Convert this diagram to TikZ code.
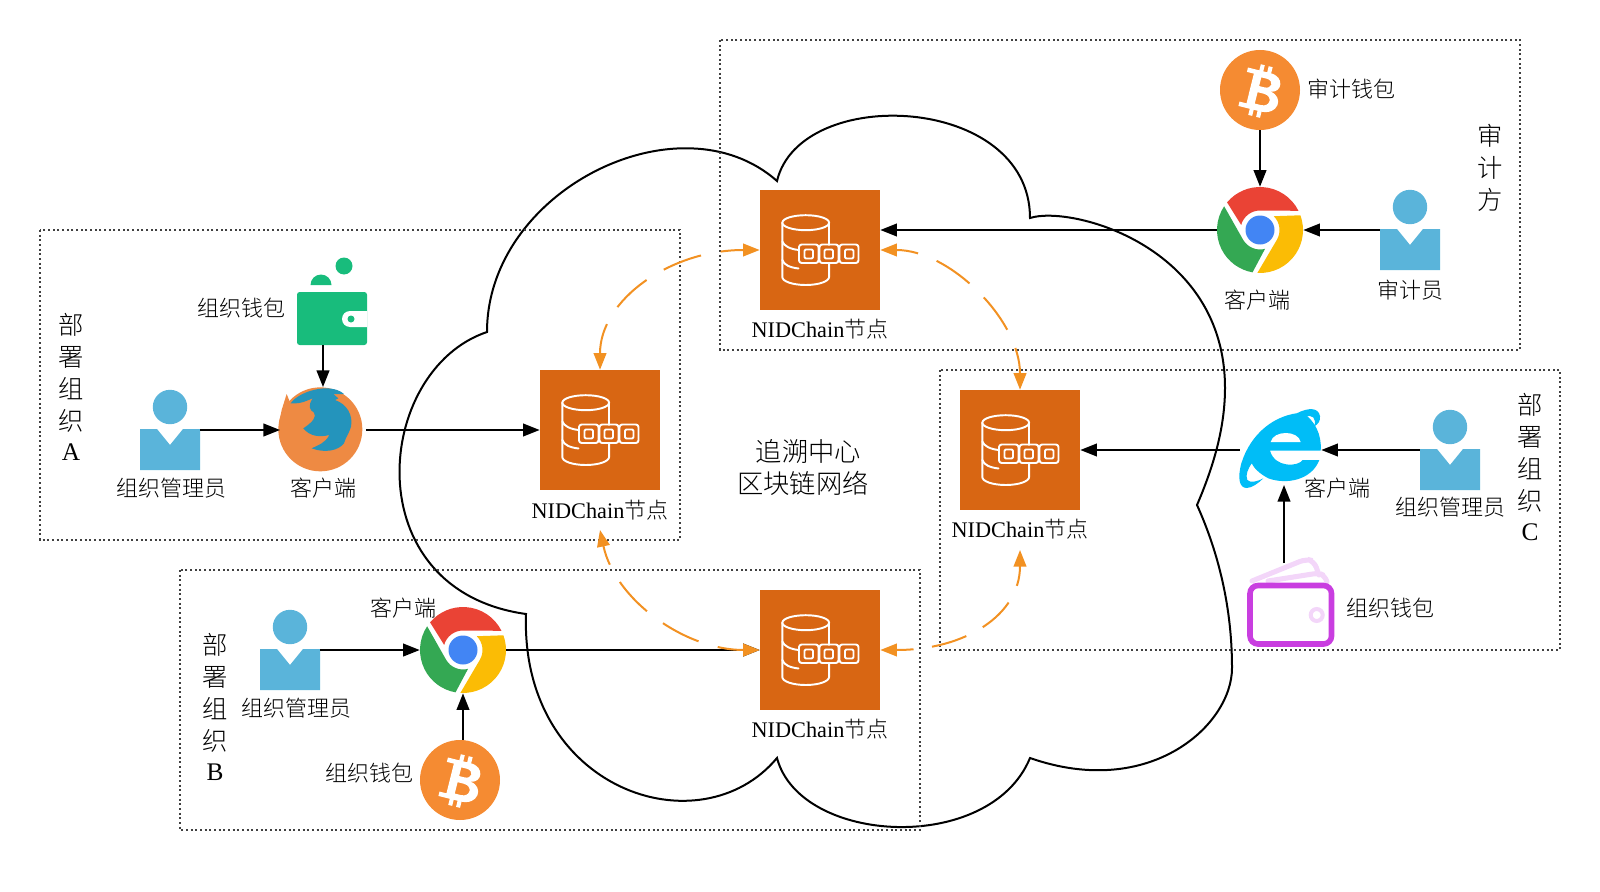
\documentclass[tikz,border=0pt]{standalone}
\usepackage{fontspec}
\setmainfont{Liberation Serif}
\newfontfamily\cjk{Noto Sans CJK SC Light}
\usetikzlibrary{arrows.meta,calc}
\definecolor{boxor}{HTML}{D86613}
\definecolor{orln}{HTML}{F29122}
\definecolor{btc}{HTML}{F58B32}
\definecolor{pers}{HTML}{5AB4DA}
\definecolor{grn}{HTML}{18BC7C}
\definecolor{purp}{HTML}{C93EE0}
\definecolor{pink}{HTML}{F3D6F9}
\definecolor{ieb}{HTML}{00BDF7}
\definecolor{fxo}{HTML}{EE8A43}
\definecolor{fxb}{HTML}{2494BC}
\definecolor{chr}{HTML}{EA4335}
\definecolor{chy}{HTML}{FBBC05}
\definecolor{chg}{HTML}{34A853}
\definecolor{chb}{HTML}{4285F4}
\tikzset{
  lab/.style={inner sep=0pt,font=\fontsize{16.5pt}{20pt}\selectfont\cjk,text=black},
  nidlab/.style={inner sep=0pt,font=\fontsize{16.7pt}{20pt}\selectfont,text=black},
  biglab/.style={inner sep=0pt,align=center,font=\fontsize{19pt}{24pt}\selectfont\cjk,text=black},
  midlab/.style={inner sep=0pt,align=center,font=\fontsize{19.7pt}{24pt}\selectfont\cjk,text=black},
  frame/.style={draw=black!75,line width=1.4pt,dash pattern=on 1.6pt off 1.9pt},
  cloudline/.style={draw=black,line width=1.5pt,line join=miter},
  conn/.style={draw=black,line width=1.5pt,-{Triangle[length=12.5pt,width=9.5pt]}},
  orconn/.style={draw=orln,line width=1.5pt,{Triangle[length=12.5pt,width=9.5pt]}-{Triangle[length=12.5pt,width=9.5pt]},dash pattern=on 30pt off 15pt},
  chainbox/.style={fill=boxor,minimum width=90pt,minimum height=90pt,inner sep=0pt},
  persbox/.style={minimum width=45pt,minimum height=60pt,inner sep=0pt},
  roundicon/.style={circle,inner sep=0pt,minimum size=#1},
  iconline/.style={draw=white,line width=1.45pt,line cap=round,line join=round}
}
\newcommand{\nidicon}[2]{% top-left corner of the box, px
  \begin{scope}[shift={(#1,#2)}]
    \draw[iconline] (22.3,32.7) arc[start angle=180,end angle=-180,x radius=23.4,y radius=7.5];
    \draw[iconline] (22.3,32.7) -- (22.3,87) arc[start angle=180,end angle=0,x radius=23.4,y radius=8] -- (69.1,73.5);
    \draw[iconline] (69.1,32.7) -- (69.1,55);
    \draw[iconline] (22.3,51.5) .. controls (24,56) and (30,59) .. (38.5,60);
    \draw[iconline] (22.3,70) .. controls (24,75) and (30,77.5) .. (38.5,78.5);
    \draw[iconline,rounded corners=2pt] (39,54.5) rectangle (58.5,73);
    \draw[iconline,rounded corners=2pt] (59.5,54.5) rectangle (78.5,73);
    \draw[iconline,rounded corners=2pt] (79.5,54.5) rectangle (98.5,73);
    \draw[iconline,rounded corners=1pt] (44.5,59.5) rectangle (53,68.5);
    \draw[iconline,rounded corners=1pt] (64.5,59.5) rectangle (73,68.5);
    \draw[iconline,rounded corners=1pt] (85,59.5) rectangle (93.5,68.5);
  \end{scope}}
\newcommand{\personicon}[2]{% centre, px
  \begin{scope}[shift={(#1,#2)}]
    \fill[pers] (0,-23) circle[radius=17.2];
    \fill[pers] (-30,-1) -- (-13,-1) -- (0,15) -- (13,-1) -- (30,-1) -- (30,40) -- (-30,40) -- cycle;
  \end{scope}}
\newcommand{\btcicon}[2]{% centre, px
  \fill[btc] (#1,#2) circle[radius=40];
  \begin{scope}[shift={(#1,#2)},rotate=-14,scale=.9]
    \fill[white,even odd rule]
      (-19,-21) -- (7,-21) .. controls (23,-21) and (25,-3) .. (12,-1) .. controls (28,1) and (27,23) .. (6,23) -- (-19,23) -- (-19,18) -- (-11,18) -- (-11,-16) -- (-19,-16) -- cycle
      (-2,-14) -- (4,-14) .. controls (13,-14) and (13,-4) .. (4,-4) -- (-2,-4) -- cycle
      (-2,3) -- (5,3) .. controls (16,3) and (16,16) .. (5,16) -- (-2,16) -- cycle;
    \fill[white] (-6,-28) rectangle (-1.5,-20) (3,-28) rectangle (7.5,-20) (-6,22) rectangle (-1.5,30) (3,22) rectangle (7.5,30);
  \end{scope}}
\newcommand{\chromeicon}[2]{% centre, px
  \begin{scope}[shift={(#1,#2)},x=.75pt,y=.75pt]
    \foreach \a/\c in {0/chr,-120/chy,120/chg}{
      \fill[\c,rotate=\a] (26.5:43) arc[start angle=26.5,end angle=140,radius=43] -- (165:19.5) arc[start angle=165,end angle=90,radius=19.5] -- cycle;
    }
    \fill[chb] (0,0) circle[radius=14.5];
  \end{scope}}
\begin{document}
\begin{tikzpicture}[x=.75pt,y=-.75pt]
\useasboundingbox (0,0) rectangle (1600,892);
% cloud
\path[cloudline] (487,332)
  .. controls (487,190) and (680,95) .. (777,181)
  .. controls (800,84) and (1030,94) .. (1030,218)
  .. controls (1070,205) and (1225,245) .. (1225,388)
  .. controls (1225,430) and (1212,470) .. (1197,505)
  .. controls (1215,545) and (1232,600) .. (1232,668)
  .. controls (1232,725) and (1150,800) .. (1030,758)
  .. controls (990,855) and (800,845) .. (777,758)
  .. controls (700,850) and (520,790) .. (526,614)
  .. controls (354,590) and (374,370) .. (487,332) -- cycle;
% frames
\draw[frame] (720,40) rectangle (1520,350);
\draw[frame] (40,230) rectangle (680,540);
\draw[frame] (180,570) rectangle (920,830);
\draw[frame] (940,370) rectangle (1560,650);
% chain nodes
\node[chainbox] (nidT) at (820,250) {};
\node[chainbox] (nidL) at (600,430) {};
\node[chainbox] (nidR) at (1020,450) {};
\node[chainbox] (nidB) at (820,650) {};
\nidicon{760}{190}\nidicon{540}{370}\nidicon{960}{390}\nidicon{760}{590}
\node[nidlab] (nidTl) at (820,329) {NIDChain{\cjk\fontsize{16.5pt}{20pt}\selectfont 节点}};
\node[nidlab] (nidLl) at (600,510) {NIDChain{\cjk\fontsize{16.5pt}{20pt}\selectfont 节点}};
\node[nidlab] (nidRl) at (1020,529) {NIDChain{\cjk\fontsize{16.5pt}{20pt}\selectfont 节点}};
\node[nidlab] (nidBl) at (820,729) {NIDChain{\cjk\fontsize{16.5pt}{20pt}\selectfont 节点}};
\coordinate (endL) at (600,530);
\coordinate (endR) at (1020,550);
% persons
\node[persbox] (perA) at (170,430) {};
\node[persbox] (perB) at (290,650) {};
\node[persbox] (perC) at (1450,450) {};
\node[persbox] (perD) at (1410,230) {};
\personicon{170}{430}\personicon{290}{650}\personicon{1450}{450}\personicon{1410}{230}
% chrome
\node[roundicon=64.5pt] (chrB) at (463,650) {};
\node[roundicon=64.5pt] (chrD) at (1260,230) {};
\chromeicon{463}{650}\chromeicon{1260}{230}
% bitcoin
\node[roundicon=60pt] (btcB) at (460,780) {};
\node[roundicon=60pt] (btcD) at (1260,90) {};
\btcicon{460}{780}\btcicon{1260}{90}
% firefox
\node[roundicon=64pt] (foxA) at (323,430) {};
\begin{scope}[shift={(270,380)},x=.25pt,y=-.25pt]
  \fill[fxo] (151,148) circle[radius=126];
  \fill[fxo] (28,125) -- (35,90) -- (50,42) -- (62,72) -- (60,110) -- cycle;
  \fill[fxb] (62,70) .. controls (85,35) and (180,5) .. (222,42) -- (190,42) -- (205,55) -- (195,60)
    .. controls (230,72) and (250,105) .. (243,140) .. controls (235,165) and (228,170) .. (222,190)
    .. controls (205,212) and (165,220) .. (125,205) .. controls (145,195) and (165,190) .. (178,165)
    .. controls (150,172) and (120,170) .. (100,145) .. controls (130,125) and (140,110) .. (132,98)
    .. controls (120,90) and (112,80) .. (128,55) .. controls (110,62) and (95,72) .. (62,70) -- cycle;
\end{scope}
% green wallet
\node[inner sep=0pt,minimum width=52.5pt,minimum height=39.75pt] (walA) at (332,318.5) {};
\fill[grn,rounded corners=2pt] (297,292) rectangle (367,345);
\fill[white] (367,311) -- (350,311) arc[start angle=-90,end angle=-270,radius=8] -- (367,327) -- cycle;
\fill[grn] (351,319) circle[radius=3.5];
\fill[grn] (344,266) circle[radius=8.5];
\fill[grn] (310.5,285) arc[start angle=180,end angle=360,radius=10.5] -- cycle;
% IE
\node[inner sep=0pt,minimum width=60.75pt,minimum height=52.5pt] (ieC) at (1280.5,450) {};
\coordinate (ieS) at (1284,485);
\begin{scope}[shift={(1230,400)},x=.25pt,y=-.25pt]
  \fill[ieb] (200,40) .. controls (235,22) and (265,22) .. (270,48) .. controls (272,62) and (265,72) .. (252,80) .. controls (262,55) and (245,40) .. (225,52) -- cycle;
  \fill[ieb] (218,38) .. controls (135,42) and (62,100) .. (34,190) .. controls (22,235) and (28,264) .. (50,264) .. controls (65,264) and (85,250) .. (100,235) .. controls (80,245) and (62,250) .. (52,240) .. controls (45,225) and (55,205) .. (65,190) .. controls (72,205) and (90,222) .. (115,235) .. controls (170,255) and (245,240) .. (268,180) -- (218,180) .. controls (205,200) and (135,205) .. (120,152) -- (272,152) .. controls (276,105) and (255,62) .. (218,38) -- cycle;
  \fill[white] (122,126) .. controls (130,90) and (205,90) .. (212,126) -- cycle;
  \fill[white] (58,102) .. controls (68,88) and (85,72) .. (105,65) .. controls (88,78) and (72,90) .. (58,102) -- cycle;
\end{scope}
% purple wallet
\node[inner sep=0pt,minimum width=65pt,minimum height=62pt] (walC) at (1290.5,605) {};
\coordinate (walCt) at (1284,563);
\draw[pink,line width=3.8pt,rounded corners=5pt,line cap=round] (1252,581) -- (1306,559) -- (1314,561) -- (1319,575);
\draw[pink,line width=3.8pt,rounded corners=4pt,line cap=round] (1268,581) -- (1319,573) -- (1325,576) -- (1327,582);
\draw[purp,line width=4.2pt,rounded corners=6pt] (1250,585.5) rectangle (1331.5,644);
\draw[pink,line width=3pt] (1316.7,615) circle[radius=6];
% connectors
\path[conn] (perA.east) -- (foxA.west);
\path[conn] (foxA.east) -- (nidL.west);
\path[conn] (walA.south -| foxA.north) -- (foxA.north);
\path[conn] (chrD.west) -- (chrD.west -| nidT.east);
\path[conn] (perD.west) -- (chrD.east);
\path[conn] (btcD.south) -- (chrD.north);
\path[conn] (perC.west) -- (ieC.east);
\path[conn] (ieC.west) -- (nidR.east);
\path[conn] (walCt) -- (ieS);
\path[conn] (perB.east) -- (chrB.west);
\path[conn] (chrB.east) -- (nidB.west);
\path[conn] (btcB.north -| chrB.south) -- (chrB.south);
\path[orconn,dash phase=12.75pt] (nidT.west) .. controls (670,250) and (600,300) .. (nidL.north);
\path[orconn,dash phase=15pt] (endL) .. controls (615,600) and (685,650) .. (nidB.west);
\path[orconn,dash phase=13.5pt] (nidT.east) .. controls (950,250) and (1020,320) .. (nidR.north);
\path[orconn,dash pattern=on 27pt off 14pt,dash phase=12pt] (endR) .. controls (1020,615) and (965,650) .. (nidB.east);
% labels
\node[lab] (t1) at (241.7,308) {组织钱包};
\node[lab] (t2) at (171,488) {组织管理员};
\node[lab] (t3) at (323,488) {客户端};
\node[lab] (t4) at (1351,89) {审计钱包};
\node[lab] (t5) at (1257.5,300) {客户端};
\node[lab] (t6) at (1410,290) {审计员};
\node[lab] (t7) at (1337.5,488) {客户端};
\node[lab] (t8) at (1450,507) {组织管理员};
\node[lab] (t9) at (1390.5,608) {组织钱包};
\node[lab] (t10) at (403,608) {客户端};
\node[lab] (t11) at (296,708) {组织管理员};
\node[lab] (t12) at (369.5,773) {组织钱包};
\node[biglab] (v1) at (1490,168) {审\\计\\方};
\node[biglab] (v2) at (71,387) {部\\署\\组\\织\\[-1.5pt]{\rmfamily A}};
\node[biglab] (v3) at (215,707) {部\\署\\组\\织\\[-1.5pt]{\rmfamily B}};
\node[biglab] (v4) at (1530,467) {部\\署\\组\\织\\[-1.5pt]{\rmfamily C}};
\node[midlab] (c1) at (803,467) {\hspace*{8pt}追溯中心\\区块链网络};
\end{tikzpicture}
\end{document}
